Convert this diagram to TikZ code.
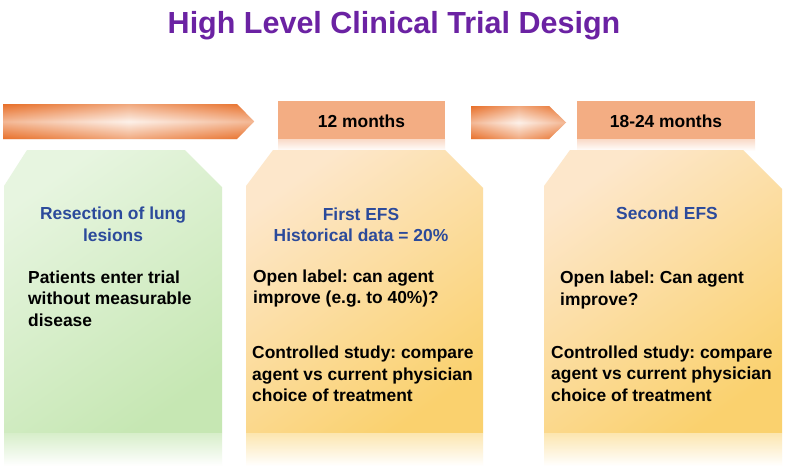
\documentclass[tikz,border=0pt]{standalone}
\usepackage{fontspec}
\setmainfont{Liberation Sans}
\frenchspacing
\definecolor{titlepurple}{HTML}{6B22A3}
\definecolor{hdrblue}{HTML}{2B4A9B}
\definecolor{arrorange}{HTML}{E8702A}
\definecolor{arrlight}{HTML}{FBE3D4}
\definecolor{hdrfill}{HTML}{F3AD83}
\definecolor{greenlight}{HTML}{E7F5E0}
\definecolor{greendark}{HTML}{C6E7B3}
\definecolor{yellight}{HTML}{FDE7CB}
\definecolor{yeldark}{HTML}{FAD16E}
\tikzset{
  bodytext/.style={font=\fontsize{17.4}{21.5}\selectfont\bfseries, inner sep=0pt, text=black, align=left},
  headtext/.style={font=\fontsize{17.4}{21.5}\selectfont\bfseries, inner sep=0pt, text=hdrblue, align=center},
  monthtext/.style={font=\fontsize{17.4}{21.5}\selectfont\bfseries, inner sep=0pt, text=black},
  hdrbox/.style={fill=hdrfill, draw=none},
  greenbox/.style={top color=greenlight, bottom color=greendark, shading angle=35, draw=none},
  yelbox/.style={top color=yellight, bottom color=yeldark, shading angle=35, draw=none},
}
\begin{document}
\begin{tikzpicture}[x=1pt,y=-1pt]
\useasboundingbox (0,0) rectangle (787,474);
\fill[white] (0,0) rectangle (787,474);

% title
\node[font=\fontsize{30.5}{36}\selectfont\bfseries, text=titlepurple, inner sep=0pt] (title) at (394,26) {High Level Clinical Trial Design};

% arrow 1
\path[left color=arrorange, right color=arrorange, middle color=arrlight]
  (3,104) -- (237,104) -- (254,121.5) -- (237,139) -- (3,139) -- cycle;
\path[top color=arrorange, bottom color=arrorange, middle color=white, opacity=0.5]
  (3,104) -- (237,104) -- (254,121.5) -- (237,139) -- (3,139) -- cycle;
% arrow 2
\path[left color=arrorange, right color=arrorange, middle color=arrlight]
  (471,106) -- (549,106) -- (566,122.5) -- (549,139) -- (471,139) -- cycle;
\path[top color=arrorange, bottom color=arrorange, middle color=white, opacity=0.5]
  (471,106) -- (549,106) -- (566,122.5) -- (549,139) -- (471,139) -- cycle;

% header boxes with reflections
\fill[hdrbox] (278,101) rectangle (445,139);
\path[top color=hdrfill!45, bottom color=white] (278,139) rectangle (445,151);
\fill[hdrbox] (577,101) rectangle (755,139);
\path[top color=hdrfill!45, bottom color=white] (577,139) rectangle (755,151);
\node[monthtext] (m12) at (361.5,121) {12 months};
\node[monthtext] (m18) at (666,121) {18-24 months};

% green box
\path[greenbox] (4,186) -- (27,150) -- (185,150) -- (222,187) -- (222,433) -- (4,433) -- cycle;
\path[top color=greendark!70, bottom color=white] (4,433) rectangle (222,466);
% middle box
\path[yelbox] (246,186) -- (273,150) -- (445,150) -- (483,188) -- (483,433) -- (246,433) -- cycle;
\path[top color=yeldark!55, bottom color=white] (246,433) rectangle (483,466);
% right box
\path[yelbox] (544,186) -- (570,150) -- (743,150) -- (782,189) -- (782,433) -- (544,433) -- cycle;
\path[top color=yeldark!55, bottom color=white] (544,433) rectangle (782,466);

% green texts
\node[headtext] (res) at (113,224.5) {Resection of lung\\lesions};
\node[bodytext, anchor=west] (pat) at (28,298.5) {Patients enter trial\\without measurable\\disease};

% middle texts
\node[headtext] (efs1) at (361,225) {First EFS\\Historical data = 20\%};
\node[bodytext, anchor=west] (open1) at (253,288.5) {Open label: can agent\\improve (e.g. to 40\%)?};
\node[bodytext, anchor=west] (ctl1) at (252,374) {Controlled study: compare\\agent vs current physician\\choice of treatment};

% right texts
\node[headtext] (efs2) at (667,213.5) {Second EFS};
\node[bodytext, anchor=west] (open2) at (560,290) {Open label: Can agent\\improve?};
\node[bodytext, anchor=west] (ctl2) at (551,373.5) {Controlled study: compare\\agent vs current physician\\choice of treatment};
\end{tikzpicture}
\end{document}
